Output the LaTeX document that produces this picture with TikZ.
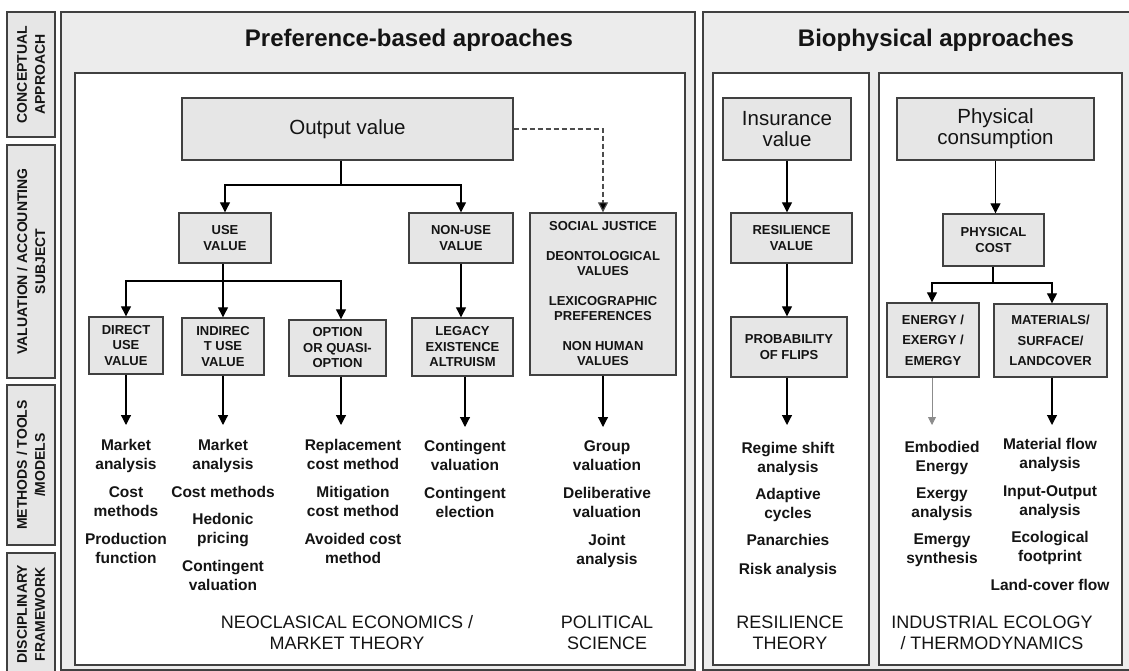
\documentclass[tikz,border=0pt]{standalone}
\usepackage{fontspec}
\setmainfont{Liberation Sans}
\usetikzlibrary{arrows.meta,calc}
\definecolor{boxfill}{RGB}{230,230,230}
\definecolor{panelfill}{RGB}{236,236,236}
\definecolor{linec}{RGB}{64,64,64}
\definecolor{txtc}{RGB}{20,20,20}
\newcommand\boxfnt{\bfseries\fontsize{13}{15.5}\selectfont}
\newcommand\boxwidefnt{\bfseries\fontsize{13}{20.5}\selectfont}
\newcommand\topfnt{\fontsize{20.5}{21}\selectfont}
\newcommand\methfnt{\bfseries\fontsize{15.5}{19}\selectfont}
\newcommand\frmfnt{\fontsize{18}{21}\selectfont}
\newcommand\titlefnt{\bfseries\fontsize{24}{28}\selectfont}
\newcommand\lblfnt{\bfseries\fontsize{14}{18}\selectfont}
\newcommand\mystrut[1]{\rule{0pt}{#1}}
\begin{document}
\begin{tikzpicture}[x=1pt,y=-1pt,
  lbl/.style={rotate=90, draw=linec, fill=boxfill, line width=1.2pt, align=center, font=\lblfnt, text=txtc, inner sep=0pt},
  panel/.style={draw=linec, fill=panelfill, line width=1.3pt},
  innerpanel/.style={draw=linec, fill=white, line width=1.3pt},
  box/.style={draw=linec, fill=boxfill, line width=1.4pt, align=center, font=\boxfnt, text=txtc, inner sep=0pt},
  ttl/.style={font=\titlefnt, text=txtc, anchor=base, inner sep=0pt},
  meth/.style={anchor=north, align=center, font=\methfnt, text=txtc, inner sep=0pt},
  frm/.style={anchor=north, align=center, font=\frmfnt, text=txtc, inner sep=0pt},
  conn/.style={draw=black, line width=1.2pt},
  arr/.style={draw=black, line width=1.2pt, -{Triangle[width=10pt,length=10pt]}},
  arrg/.style={draw=black!45, line width=0.8pt, -{Triangle[width=8pt,length=8pt]}},
  dconn/.style={draw=black!70, line width=1.2pt, dash pattern=on 5pt off 3pt, -{Triangle[width=10pt,length=10pt,fill=black]}}
]
\useasboundingbox (0,0) rectangle (1129,671);
\fill[white] (0,0) rectangle (1129,671);

% ---- left row labels
\node[lbl, minimum width=125pt, minimum height=48pt] (l1) at (31,74.5) {CONCEPTUAL\\APPROACH};
\node[lbl, minimum width=233pt, minimum height=48pt] (l2) at (31,261.5) {VALUATION / ACCOUNTING\\SUBJECT};
\node[lbl, minimum width=160pt, minimum height=48pt] (l3) at (31,465) {METHODS / TOOLS\\/MODELS};
\node[lbl, minimum width=122pt, minimum height=48pt] (l4) at (31,614) {DISCIPLINARY\\FRAMEWORK};

% ---- panels
\draw[panel] (61,12) rectangle (695,670);
\draw[innerpanel] (75,73) rectangle (685,665);
\draw[panel] (703,12) rectangle (1140,670);
\draw[innerpanel] (713,73) rectangle (869,665);
\draw[innerpanel] (879,73) rectangle (1122,665);

\node[ttl] (t1) at (409,47) {Preference-based aproaches};
\node[ttl] (t2) at (936,47) {Biophysical approaches};

% ---- top boxes
\node[box, font=\topfnt, minimum width=331pt, minimum height=62pt] (out) at (347.5,129) {Output value};
\node[box, font=\topfnt, minimum width=128pt, minimum height=62pt] (ins) at (787,129) {Insurance\\value};
\node[box, font=\topfnt, minimum width=197pt, minimum height=62pt] (phys) at (995.5,129) {Physical\\consumption};

% ---- level 2
\node[box, minimum width=92pt, minimum height=50pt] (use) at (225,238) {USE\\VALUE};
\node[box, minimum width=104pt, minimum height=50pt] (nonuse) at (461,238) {NON-USE\\VALUE};
\node[box, minimum width=146pt, minimum height=162pt] (social) at (603,294) {SOCIAL JUSTICE\\[14pt]DEONTOLOGICAL\\VALUES\\[14pt]LEXICOGRAPHIC\\PREFERENCES\\[14pt]NON HUMAN\\VALUES};
\node[box, minimum width=121pt, minimum height=50pt] (resv) at (791.5,238) {RESILIENCE\\VALUE};
\node[box, minimum width=101pt, minimum height=52pt] (pcost) at (993.5,240) {PHYSICAL\\COST};

% ---- level 3
\node[box, minimum width=74pt, minimum height=57pt] (direct) at (126,345.5) {DIRECT\\USE\\VALUE};
\node[box, minimum width=82pt, minimum height=57pt] (indirect) at (223,346.5) {INDIREC\\T USE\\VALUE};
\node[box, minimum width=97pt, minimum height=56pt] (option) at (337.5,348) {OPTION\\OR QUASI-\\OPTION};
\node[box, minimum width=101pt, minimum height=58pt] (legacy) at (462.5,347) {LEGACY\\EXISTENCE\\ALTRUISM};
\node[box, minimum width=116pt, minimum height=60pt] (prob) at (789,347) {PROBABILITY\\OF FLIPS};
\node[box, font=\boxwidefnt, minimum width=92pt, minimum height=74pt] (energy) at (933,340) {ENERGY /\\EXERGY /\\EMERGY};
\node[box, font=\boxwidefnt, minimum width=113pt, minimum height=73pt] (mat) at (1050.5,340.5) {MATERIALS/\\SURFACE/\\LANDCOVER};

% ---- junctions and arrow ends
\coordinate (j1) at (341,185);
\coordinate (j2) at (223,281);
\coordinate (j3) at (993,283);
\coordinate (t1) at (126,425);
\coordinate (t2) at (223,425);
\coordinate (t3) at (341,425);
\coordinate (t4) at (465,427);
\coordinate (t5) at (603,427);
\coordinate (t6) at (787,425);
\coordinate (t7) at (932,425);
\coordinate (t8) at (1052,425);

% ---- connectors
\draw[conn] (out.south -| j1) -- (j1);
\draw[arr] (j1) -| (use.north);
\draw[arr] (j1) -| (nonuse.north);
\draw[dconn] (out.east) -| (social.north);
\draw[conn] (use.south -| j2) -- (j2);
\draw[arr] (j2) -| (direct.north);
\draw[arr] (j2) -- (j2 |- indirect.north);
\draw[arr] (j2) -| (option.north -| t3);
\draw[arr] (nonuse.south) -- (nonuse.south |- legacy.north);
\draw[arr] (direct.south -| t1) -- (t1);
\draw[arr] (indirect.south -| t2) -- (t2);
\draw[arr] (option.south -| t3) -- (t3);
\draw[arr] (legacy.south -| t4) -- (t4);
\draw[arr] (social.south -| t5) -- (t5);
\draw[arr] (ins.south -| t6) -- (resv.north -| t6);
\draw[arr] (resv.south -| t6) -- (prob.north -| t6);
\draw[arr] (prob.south -| t6) -- (t6);
\draw[arr] (phys.south) -- (phys.south |- pcost.north);
\draw[conn] (pcost.south -| j3) -- (j3);
\draw[arr] (j3) -| (energy.north -| t7);
\draw[arr] (j3) -| (mat.north -| t8);
\draw[arrg] (energy.south -| t7) -- (t7);
\draw[arr] (mat.south -| t8) -- (t8);

% ---- methods
\node[meth] (m1) at (126,436.5) {\mystrut{14pt}Market\\analysis\\[9pt]Cost\\methods\\[9pt]Production\\function};
\node[meth] (m2) at (223,436.5) {\mystrut{14pt}Market\\analysis\\[9pt]Cost methods\\[8pt]Hedonic\\pricing\\[9pt]Contingent\\valuation};
\node[meth] (m3) at (353,436.5) {\mystrut{14pt}Replacement\\cost method\\[9pt]Mitigation\\cost method\\[9pt]Avoided cost\\method};
\node[meth] (m4) at (465,437.5) {\mystrut{14pt}Contingent\\valuation\\[9pt]Contingent\\election};
\node[meth] (m5) at (607,437.5) {\mystrut{14pt}Group\\valuation\\[9pt]Deliberative\\valuation\\[9pt]Joint\\analysis};
\node[meth] (m6) at (788,439.5) {\mystrut{14pt}Regime shift\\analysis\\[8pt]Adaptive\\cycles\\[8pt]Panarchies\\[10pt]Risk analysis};
\node[meth] (m7) at (942,438.5) {\mystrut{14pt}Embodied\\Energy\\[8pt]Exergy\\analysis\\[8pt]Emergy\\synthesis};
\node[meth] (m8) at (1050,435.5) {\mystrut{14pt}Material flow\\analysis\\[9pt]Input-Output\\analysis\\[8pt]Ecological\\footprint\\[10pt]Land-cover flow};

% ---- disciplinary frameworks
\node[frm] (f1) at (347,612.4) {\mystrut{16pt}NEOCLASICAL ECONOMICS /\\MARKET THEORY};
\node[frm] (f2) at (607,612.4) {\mystrut{16pt}POLITICAL\\SCIENCE};
\node[frm] (f3) at (790,612.4) {\mystrut{16pt}RESILIENCE\\THEORY};
\node[frm] (f4) at (992,612.4) {\mystrut{16pt}INDUSTRIAL ECOLOGY\\/ THERMODYNAMICS};
\end{tikzpicture}
\end{document}
